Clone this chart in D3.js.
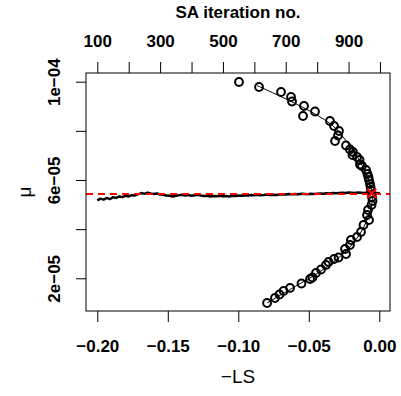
<!DOCTYPE html>
<html>
<head>
<meta charset="utf-8">
<script src="https://cdn.jsdelivr.net/npm/d3@7"></script>
<style>
  body { margin: 0; background: #fff; }
  svg { font-family: "Liberation Sans", Arial, sans-serif; }
</style>
</head>
<body>
<div id="container"></div>
<script>
// -LS values of the circles and their mu (in units of 1e-5)
const circleLS = [-0.0995, -0.0853, -0.0697, -0.0626, -0.0619, -0.0534, -0.0541, -0.0456,
  -0.0350, -0.0321, -0.0286, -0.0293, -0.0314, -0.0236, -0.0208, -0.0187, -0.0190, -0.0158,
  -0.0140, -0.0137, -0.0123, -0.0094, -0.0084, -0.0077, -0.0073, -0.0066, -0.0062, -0.0059,
  -0.0052, -0.0048, -0.0055, -0.0080, -0.0087, -0.0073, -0.0112, -0.0130, -0.0158, -0.0201,
  -0.0208, -0.0243, -0.0236, -0.0289, -0.0321, -0.0360, -0.0378, -0.0413, -0.0449, -0.0474,
  -0.0491, -0.0552, -0.0633, -0.0679, -0.0708, -0.0740, -0.0796];
const circleMu = [9.988, 9.784, 9.581, 9.377, 9.194, 9.011, 8.604, 8.787,
  8.401, 8.197, 7.994, 7.811, 7.587, 7.404, 7.241, 7.139, 7.017, 6.936,
  6.814, 6.631, 6.570, 6.407, 6.244, 6.122, 6.000, 5.837, 5.715, 5.593,
  5.308, 5.146, 4.983, 4.780, 4.576, 4.373, 4.169, 3.884, 3.681, 3.559,
  3.355, 3.193, 2.989, 2.847, 2.786, 2.664, 2.542, 2.358, 2.216, 2.033,
  1.972, 1.789, 1.606, 1.484, 1.341, 1.199, 0.995];

// fitted curve
const fitLS = [-0.0867, -0.0633, -0.0456, -0.0328, -0.0229, -0.0151, -0.0094, -0.0059, -0.0048,
  -0.0059, -0.0087, -0.0137, -0.0208, -0.0307, -0.0435, -0.0591, -0.0796];
const fitMu = [9.845, 9.215, 8.686, 8.197, 7.546, 6.895, 6.244, 5.675, 5.349,
  4.861, 4.373, 3.803, 3.274, 2.745, 2.216, 1.687, 0.995];

// SA trace: iteration and mu
const saIter = d3.range(100, 1001, 10);
const saMu = [5.17, 5.24, 5.20, 5.27, 5.22, 5.30, 5.27, 5.33, 5.30, 5.36,
  5.33, 5.38, 5.37, 5.42, 5.47, 5.44, 5.49, 5.45, 5.43, 5.45,
  5.41, 5.40, 5.37, 5.36, 5.33, 5.36, 5.38, 5.40, 5.37, 5.39,
  5.36, 5.38, 5.40, 5.37, 5.35, 5.36, 5.33, 5.35, 5.34, 5.36,
  5.34, 5.35, 5.33, 5.36, 5.35, 5.37, 5.36, 5.38, 5.37, 5.39,
  5.38, 5.40, 5.38, 5.39, 5.41, 5.39, 5.40, 5.39, 5.41, 5.42,
  5.41, 5.43, 5.42, 5.43, 5.42, 5.44, 5.43, 5.42, 5.44, 5.43,
  5.44, 5.45, 5.44, 5.46, 5.45, 5.47, 5.46, 5.47, 5.48, 5.47,
  5.49, 5.48, 5.47, 5.49, 5.48, 5.47, 5.49, 5.48, 5.46, 5.47, 5.45];

const muHat = 5.43;           // red dashed line
const optLS = -0.0054, optMu = 5.459;  // red cross

const xTicks = [-0.20, -0.15, -0.10, -0.05, 0.00];
const xTickLabels = ["\u22120.20", "\u22120.15", "\u22120.10", "\u22120.05", "0.00"];
const topTicks = [100, 200, 300, 400, 500, 600, 700, 800, 900, 1000];
const topTickLabels = ["100", "", "300", "", "500", "", "700", "", "900", ""];
const yTicks = [2, 4, 6, 8, 10];
const yTickLabels = ["2e\u221205", "", "6e\u221205", "", "1e\u221204"];

const W = 401, H = 396;
const box = {left: 86, right: 390, top: 73, bottom: 311};

const svg = d3.select("#container").append("svg")
  .attr("width", W).attr("height", H);

const x = d3.scaleLinear().domain([-0.20801, 0.00759]).range([box.left, box.right]);
const xTop = d3.scaleLinear().domain([64.0, 1031.9]).range([box.left, box.right]);
const y = d3.scaleLinear().domain([0.669, 10.354]).range([box.bottom, box.top]);

const plot = svg.append("g");
plot.append("clipPath").attr("id", "clip")
  .append("rect")
  .attr("x", box.left).attr("y", box.top)
  .attr("width", box.right - box.left).attr("height", box.bottom - box.top);

// SA trace
plot.append("path")
  .datum(saIter.map((d, i) => [d, saMu[i]]))
  .attr("fill", "none")
  .attr("stroke", "#000")
  .attr("stroke-width", 2.4)
  .attr("stroke-linejoin", "round")
  .attr("d", d3.line().x(d => xTop(d[0])).y(d => y(d[1])));

// red dashed line
plot.append("line")
  .attr("clip-path", "url(#clip)")
  .attr("x1", box.left).attr("x2", box.right)
  .attr("y1", y(muHat)).attr("y2", y(muHat))
  .attr("stroke", "#ff0000")
  .attr("stroke-width", 1.8)
  .attr("stroke-dasharray", "7,5");

// circles
plot.selectAll(".pt")
  .data(circleLS.map((d, i) => [d, circleMu[i]]))
  .enter()
  .append("circle")
  .attr("class", "pt")
  .attr("cx", d => x(d[0]))
  .attr("cy", d => y(d[1]))
  .attr("r", 3.9)
  .attr("fill", "none")
  .attr("stroke", "#000")
  .attr("stroke-width", 2);

// fitted curve
plot.append("path")
  .datum(fitLS.map((d, i) => [d, fitMu[i]]))
  .attr("fill", "none")
  .attr("stroke", "#000")
  .attr("stroke-width", 1)
  .attr("d", d3.line().curve(d3.curveCatmullRom).x(d => x(d[0])).y(d => y(d[1])));

// red cross at optimum
const cx = x(optLS), cy = y(optMu), s = 4.5;
plot.append("path")
  .attr("d", `M${cx - s},${cy - s}L${cx + s},${cy + s}M${cx - s},${cy + s}L${cx + s},${cy - s}`)
  .attr("stroke", "#ff0000")
  .attr("stroke-width", 2.2);

// box
svg.append("rect")
  .attr("x", box.left).attr("y", box.top)
  .attr("width", box.right - box.left).attr("height", box.bottom - box.top)
  .attr("fill", "none").attr("stroke", "#000").attr("stroke-width", 1);

// axes
const styleAxis = g => {
  g.select(".domain").remove();
  g.selectAll(".tick line").attr("stroke", "#000");
  g.selectAll(".tick text")
    .attr("fill", "#000")
    .attr("font-size", 17)
    .attr("font-weight", "bold")
    .attr("font-family", "Liberation Sans, Arial, sans-serif");
};

svg.append("g")
  .attr("transform", `translate(0,${box.bottom})`)
  .call(d3.axisBottom(x).tickValues(xTicks).tickSize(11).tickPadding(18)
    .tickFormat((d, i) => xTickLabels[i]))
  .call(styleAxis);

svg.append("g")
  .attr("transform", `translate(0,${box.top})`)
  .call(d3.axisTop(xTop).tickValues(topTicks).tickSize(11).tickPadding(15.5)
    .tickFormat((d, i) => topTickLabels[i]))
  .call(styleAxis);

svg.append("g")
  .attr("transform", `translate(${box.left},0)`)
  .call(d3.axisLeft(y).tickValues(yTicks).tickSize(10)
    .tickFormat((d, i) => yTickLabels[i]))
  .call(styleAxis)
  .call(g => g.selectAll(".tick text")
    .attr("transform", "rotate(-90)")
    .attr("x", 0).attr("y", -26).attr("dy", null)
    .attr("text-anchor", "middle"));

// titles
svg.append("text")
  .attr("x", 238).attr("y", 18.3)
  .attr("text-anchor", "middle")
  .attr("font-size", 17).attr("font-weight", "bold")
  .text("SA iteration no.");

svg.append("text")
  .attr("x", 238).attr("y", 383)
  .attr("text-anchor", "middle")
  .attr("font-size", 19)
  .text("\u2212LS");

svg.append("text")
  .attr("transform", "translate(31,192) rotate(-90)")
  .attr("text-anchor", "middle")
  .attr("font-size", 19)
  .text("\u03bc");
</script>
</body>
</html>
